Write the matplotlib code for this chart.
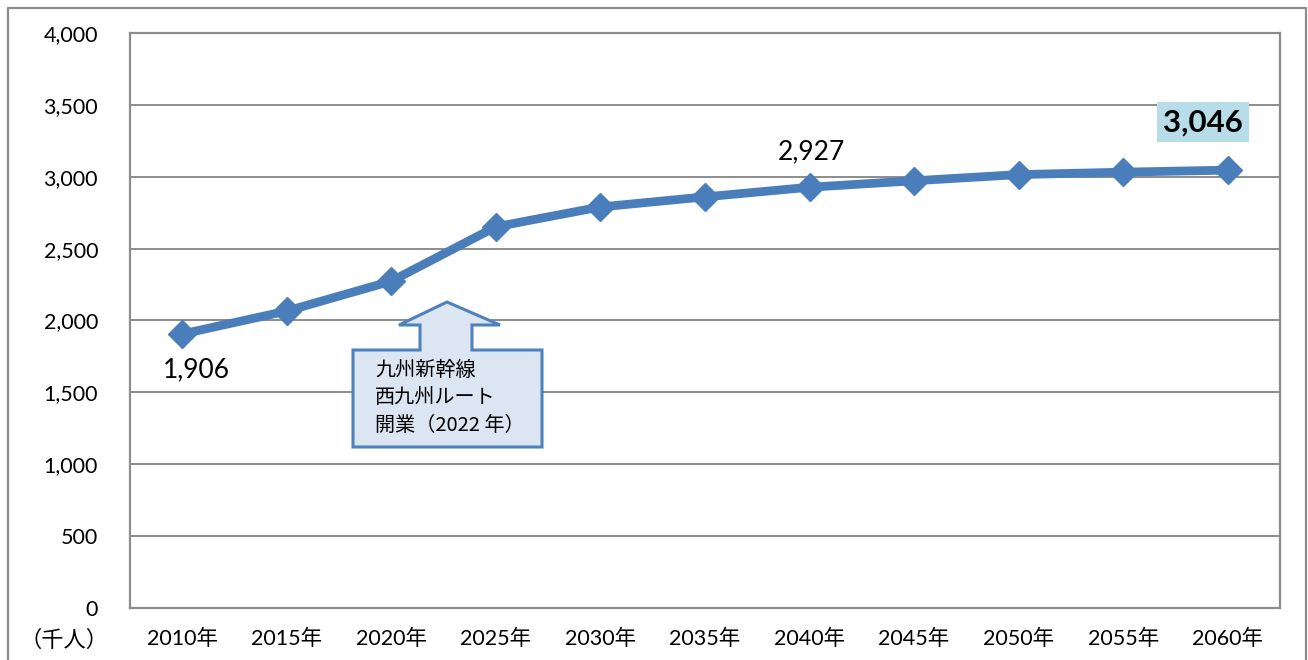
import matplotlib
matplotlib.use("Agg")
import matplotlib.pyplot as plt
from matplotlib.patches import Polygon
from matplotlib.lines import Line2D
from matplotlib.ticker import FuncFormatter, MultipleLocator

# Population projection (thousand people)
years = ["2010年", "2015年", "2020年", "2025年", "2030年", "2035年",
         "2040年", "2045年", "2050年", "2055年", "2060年"]
population = [1906, 2066, 2274, 2652, 2790, 2860, 2927, 2972, 3015, 3032, 3046]
unit_label = "（千人）"
note_lines = ["九州新幹線", "西九州ルート", "開業（2022 年）"]

W, H = 1308, 660
LINE_BLUE = "#4A7EBB"
GRID = "#8C8C8C"
FONTS = ["Lato", "Noto Sans CJK JP", "DejaVu Sans"]
CJK = ["Noto Sans CJK JP", "DejaVu Sans"]

fig = plt.figure(figsize=(W / 100, H / 100), dpi=100)
fig.patch.set_facecolor("white")


def px(x, y):
    """Figure pixel (from top-left) -> figure fraction."""
    return x / W, 1 - y / H


# outer chart frame (left, top, right edges)
fx0, fy0 = px(8, 8)
fx1, fy1 = px(1306, 668)
fig.add_artist(Line2D([fx0, fx0, fx1, fx1], [fy1, fy0, fy0, fy1],
                      transform=fig.transFigure, color=GRID, lw=1.6))

left, top, right, bottom = 130, 33, 1280, 608
ax = fig.add_axes([left / W, 1 - bottom / H, (right - left) / W, (bottom - top) / H])

x = list(range(len(years)))
ax.plot(x, population, color=LINE_BLUE, lw=6.3, marker="D", markersize=14.5,
        markerfacecolor=LINE_BLUE, markeredgecolor=LINE_BLUE, zorder=3,
        solid_joinstyle="miter")

ax.set_xlim(-0.5, len(years) - 0.5)
ax.set_ylim(0, 4000)
ax.yaxis.set_major_locator(MultipleLocator(500))
ax.yaxis.set_major_formatter(FuncFormatter(lambda v, p: f"{int(v):,}"))
ax.set_xticks(x)
ax.set_xticklabels(years, family=FONTS, fontsize=15.5)
for lab in ax.get_yticklabels():
    lab.set_family(FONTS)
    lab.set_fontsize(15.5)
ax.tick_params(axis="both", length=0)
ax.tick_params(axis="y", pad=23)
ax.tick_params(axis="x", pad=15)
ax.grid(axis="y", color=GRID, lw=1.4)
ax.set_axisbelow(True)
for s in ax.spines.values():
    s.set_color(GRID)
    s.set_linewidth(1.6)

# unit label at the left of the category axis row
ux, uy = px(64, 640)
fig.text(ux, uy, unit_label, family=CJK, fontsize=16, ha="center", va="center")

# value labels
ax.annotate(f"{population[0]:,}", (0, population[0]), xytext=(14, -36),
            textcoords="offset pixels", ha="center", va="center",
            family=FONTS, fontsize=19)
ax.annotate(f"{population[6]:,}", (6, population[6]), xytext=(2, 35),
            textcoords="offset pixels", ha="center", va="center",
            family=FONTS, fontsize=19)
ax.annotate(f"{population[-1]:,}", (10, population[-1]), xytext=(-25, 48),
            textcoords="offset pixels", ha="center", va="center",
            family=FONTS, fontsize=22.5, fontweight="bold",
            bbox=dict(boxstyle="square,pad=0.2", fc="#B7DDE8", ec="none"))

# arrow-shaped callout for the Shinkansen opening
shape_px = [(353, 350), (420, 350), (420, 325), (399, 325), (447, 302),
            (500, 325), (472, 325), (472, 350), (542, 350), (542, 447),
            (353, 447)]
callout = Polygon([px(a, b) for a, b in shape_px], closed=True,
                  transform=fig.transFigure, facecolor="#DCE6F2",
                  edgecolor="#4F81BD", lw=2.2, zorder=5)
fig.add_artist(callout)
for i, line in enumerate(note_lines):
    tx, ty = px(375, 370 + i * 27.5)
    fig.text(tx, ty, line, family=CJK, fontsize=14.5, ha="left", va="center",
             zorder=6)

fig.savefig("out.png", dpi=100, facecolor="white")
